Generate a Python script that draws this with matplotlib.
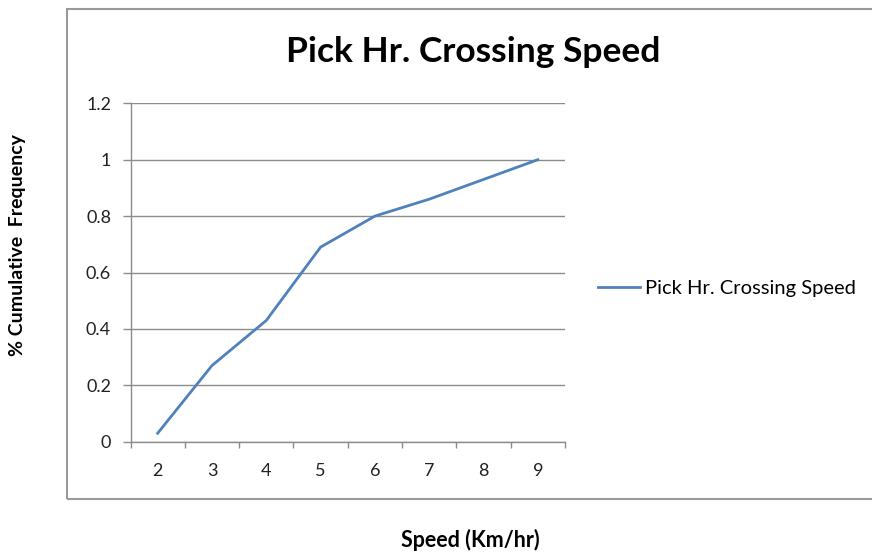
import matplotlib
matplotlib.use("Agg")
import matplotlib.pyplot as plt
from matplotlib.patches import Rectangle
import numpy as np

categories = ["2", "3", "4", "5", "6", "7", "8", "9"]
values = [0.03, 0.27, 0.43, 0.69, 0.80, 0.86, 0.93, 1.0]
series_name = "Pick Hr. Crossing Speed"
title = "Pick Hr. Crossing Speed"
xlabel = "Speed (Km/hr)"
ylabel = "% Cumulative  Frequency"
yticks = [0, 0.2, 0.4, 0.6, 0.8, 1, 1.2]
ytick_labels = ["0", "0.2", "0.4", "0.6", "0.8", "1", "1.2"]

plt.rcParams['font.family'] = ['Lato', 'DejaVu Sans']

fig = plt.figure(figsize=(8.72, 5.52), dpi=100)
W, H = 872, 552
ax = fig.add_axes([130.5 / W, 1 - 441.7 / H, (565 - 130.5) / W, (441.7 - 103.3) / H])

# chart border
fig.patches.append(Rectangle((67 / W, 1 - 498.5 / H), 1.2, (498.5 - 8.5) / H,
                             transform=fig.transFigure, fill=False,
                             edgecolor="#9a9a9a", linewidth=1.5))

x = np.arange(len(categories))
line, = ax.plot(x, values, color="#4F81BD", linewidth=2.0, label=series_name)

ax.set_xlim(-0.5, len(categories) - 0.5)
ax.set_ylim(0, 1.2)
ax.set_yticks(yticks)
ax.set_yticklabels(ytick_labels)
ax.set_xticks(x)
ax.set_xticklabels(categories)
ax.set_xticks(np.arange(-0.5, len(categories), 1.0), minor=True)
ax.tick_params(axis='x', which='major', length=0, pad=15, labelsize=13, colors="#222222")
ax.tick_params(axis='x', which='minor', length=4, width=1, color="#8c8c8c", direction='out')
ax.tick_params(axis='y', length=6, width=1, color="#8c8c8c", direction='out', pad=8,
               labelsize=13, labelcolor="#222222")

ax.grid(axis='y', color="#8c8c8c", linewidth=1)
ax.set_axisbelow(True)
for s in ["top", "right"]:
    ax.spines[s].set_visible(False)
for s in ["left", "bottom"]:
    ax.spines[s].set_color("#8c8c8c")
    ax.spines[s].set_linewidth(1)

fig.text(473 / W, 1 - 52 / H, title, ha='center', va='center', fontsize=25.5,
         fontweight='bold', color="black")
fig.text(470 / W, 1 - 540 / H, xlabel, ha='center', va='center', fontsize=15.5,
         fontweight='bold', color="black")
fig.text(18 / W, 1 - 245 / H, ylabel, ha='center', va='center', fontsize=14,
         fontweight='bold', rotation=90, color="black")

fig.legend(handles=[line], loc='center left', bbox_to_anchor=(598 / W, 1 - 288 / H),
           frameon=False, fontsize=14.5, handlelength=2.1, handletextpad=0.25,
           borderaxespad=0, borderpad=0)

fig.savefig("out.png", dpi=100)
